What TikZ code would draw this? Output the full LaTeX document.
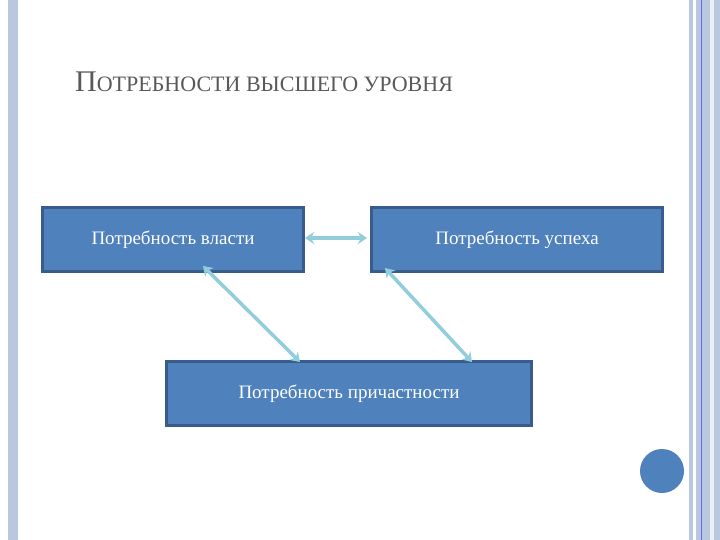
\documentclass[tikz,border=0pt]{standalone}
\usepackage{fontspec}
\setmainfont{Liberation Serif}
\usetikzlibrary{arrows.meta}
\definecolor{boxfill}{HTML}{4F81BD}
\definecolor{boxline}{HTML}{385D8A}
\definecolor{arr}{HTML}{92CDDC}
\definecolor{bar}{HTML}{B9C7DF}
\begin{document}
\begin{tikzpicture}[x=1pt,y=-1pt,
  box/.style={draw=boxline,line width=3pt,fill=boxfill,text=white,font=\fontsize{19}{22}\selectfont,anchor=north west,inner sep=0pt},
  link/.style={draw=arr,line width=3.5pt,{Stealth[length=9pt,width=12pt]}-{Stealth[length=9pt,width=12pt]}}]
\useasboundingbox[fill=white] (0,0) rectangle (720,540);
\fill[bar] (8,0) rectangle (18,540);
\fill[bar] (689,0) rectangle (720,540);
\fill[white] (693,0) rectangle (696,540);
\draw[blue!60,line width=0.8pt] (701,0) -- (701,540);
\fill[white!70!bar] (710,0) rectangle (714,540);
\node[anchor=base west,text=black!65,inner sep=0pt] (title) at (75,92)
  {{\fontsize{30}{34}\selectfont П}{\fontsize{22}{26}\selectfont ОТРЕБНОСТИ ВЫСШЕГО УРОВНЯ}};
\node[box,minimum width=261pt,minimum height=64pt] (a) at (41,206) {Потребность власти};
\node[box,minimum width=291pt,minimum height=64pt] (b) at (370,206) {Потребность успеха};
\node[box,minimum width=365pt,minimum height=64pt] (c) at (165,360) {Потребность причастности};
\coordinate (a1) at (305,238); \coordinate (b1) at (367,238);
\coordinate (a2) at (203,266); \coordinate (c2) at (300,362);
\coordinate (b3) at (385,268); \coordinate (c3) at (472,362);
\draw[link] (a1) -- (b1);
\draw[link] (a2) -- (c2);
\draw[link] (b3) -- (c3);
\node[circle,fill=boxfill,minimum size=44pt,inner sep=0pt] (dot) at (662,471) {};
\end{tikzpicture}
\end{document}
